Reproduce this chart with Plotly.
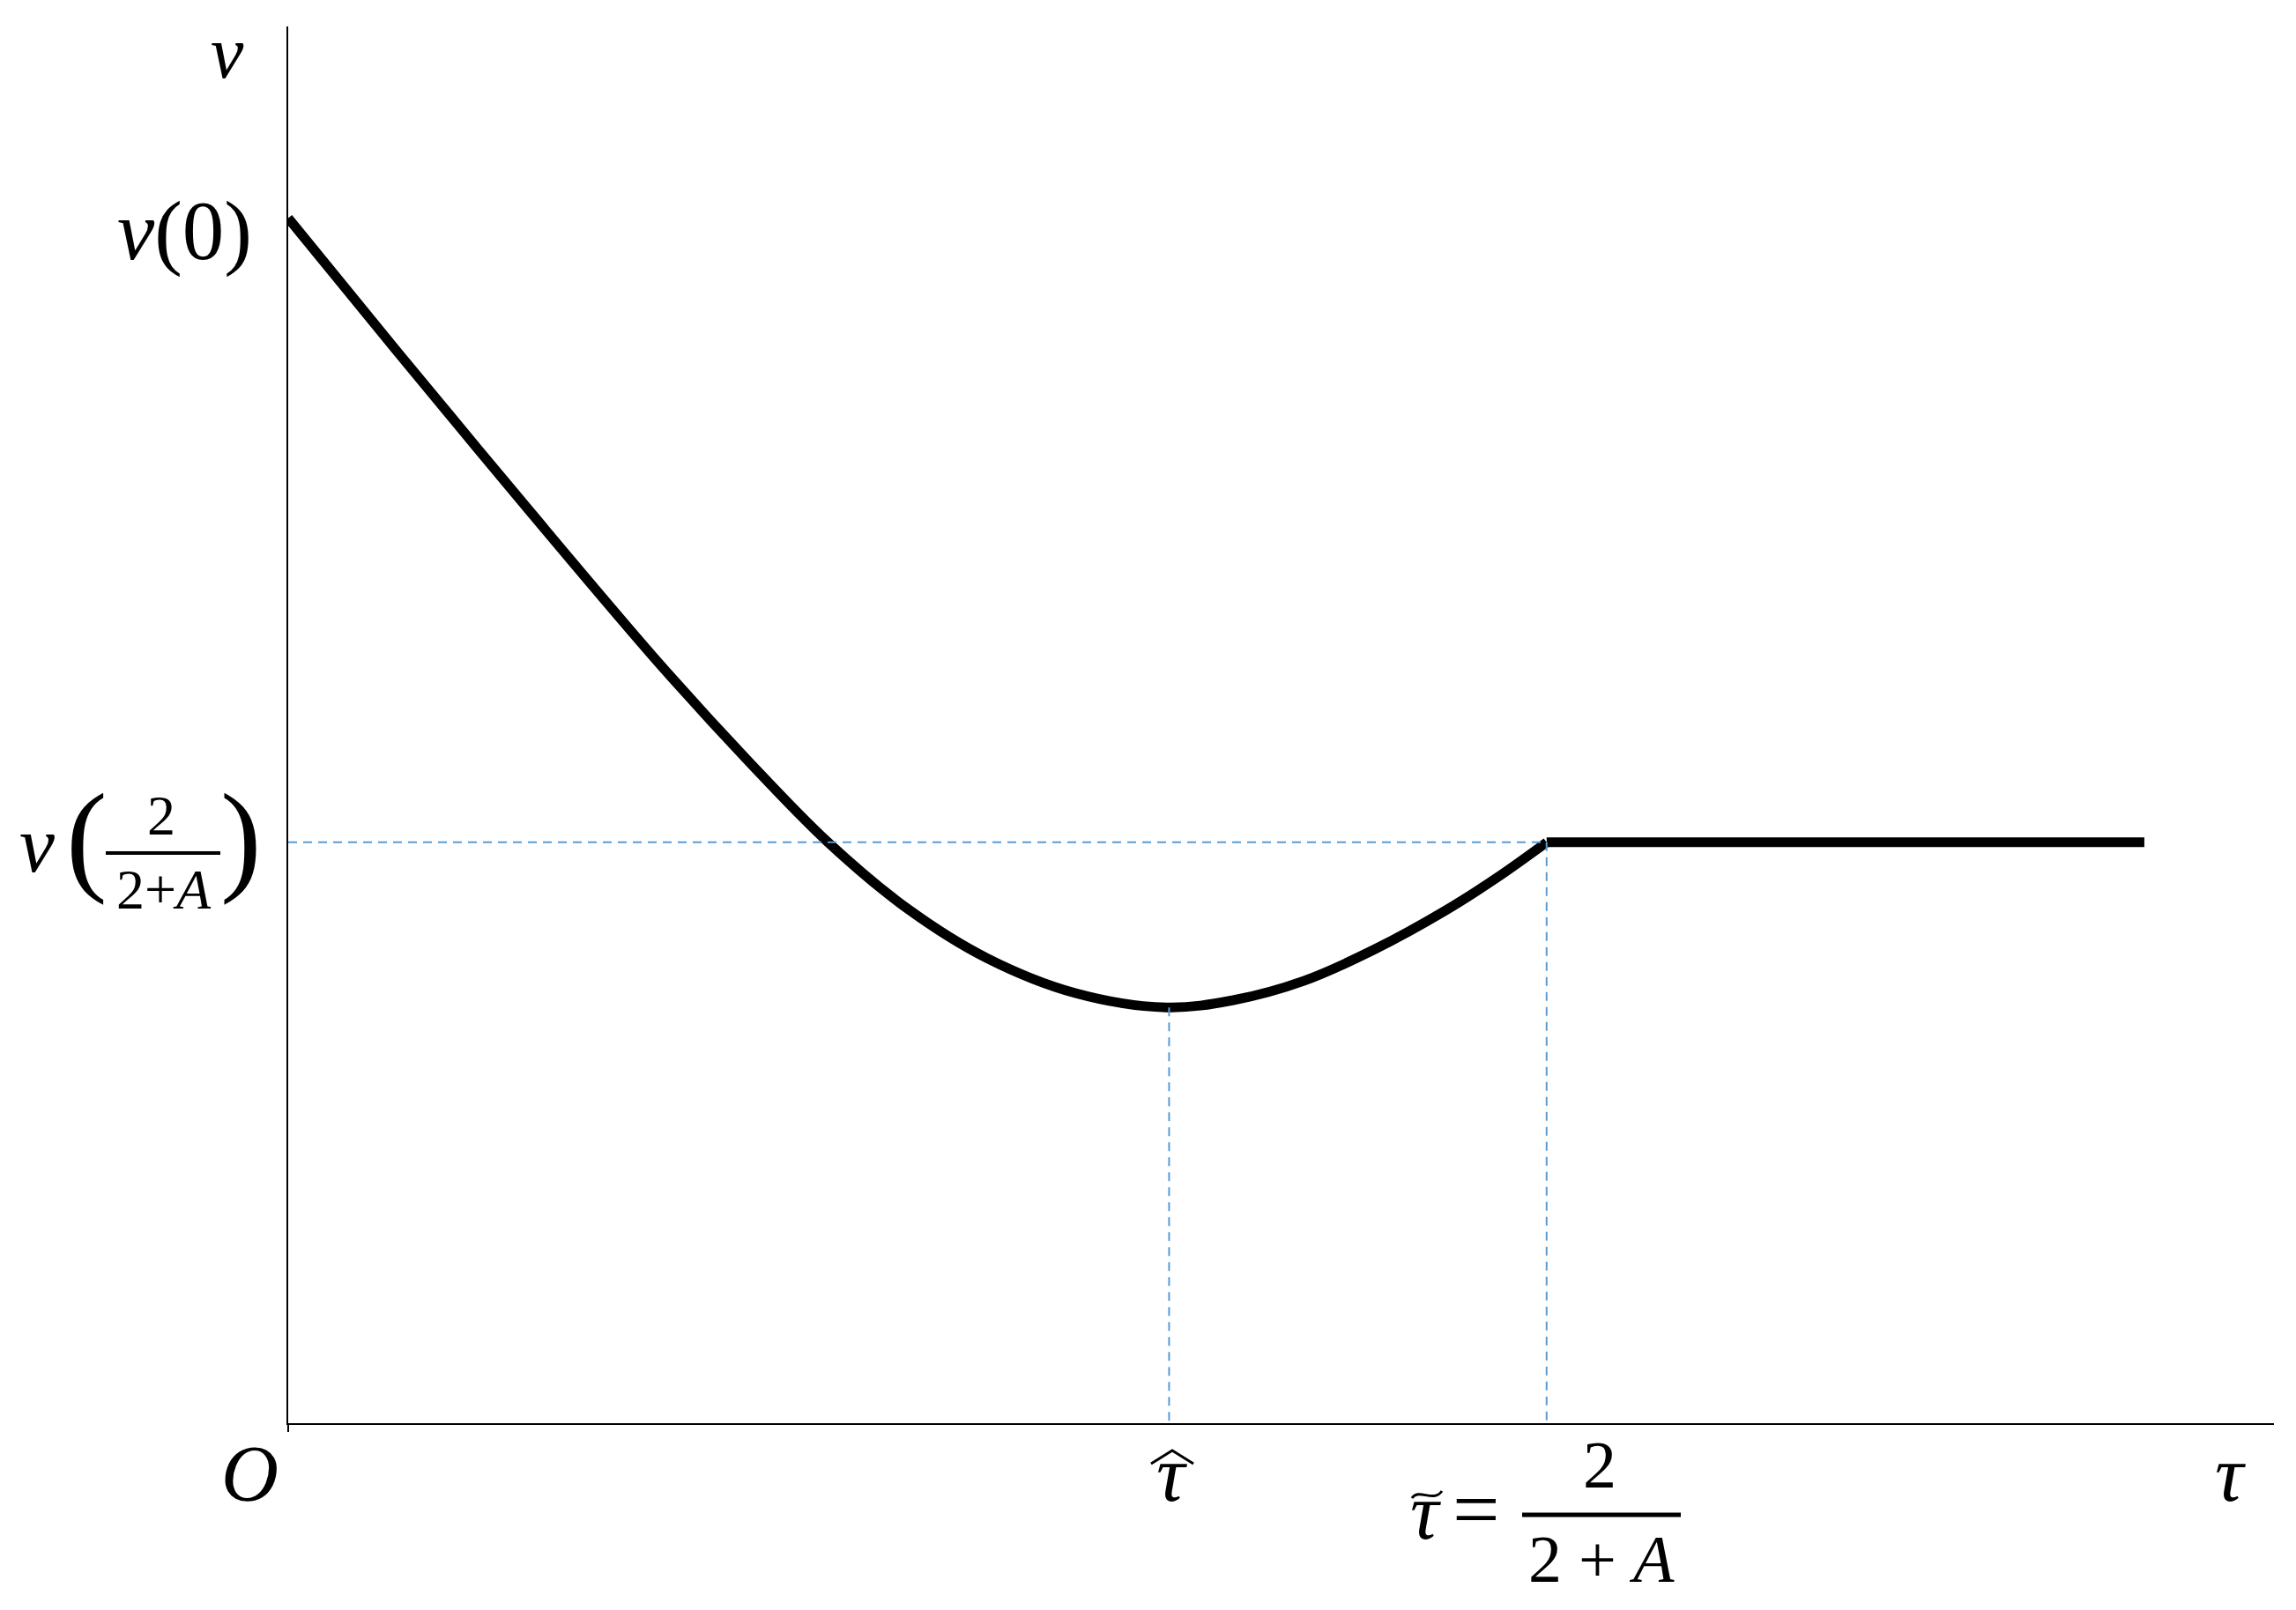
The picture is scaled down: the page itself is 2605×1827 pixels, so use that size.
"""
Value function v(tau): falls from v(0) to a minimum at tau-hat,
climbs back to v(2/(2+A)) at tau-tilde and stays flat after it.
"""

import plotly.graph_objects as go

# ---- data (tau-tilde = 1, v(0) = 1) ----
tau_curve = [0, 0.086, 0.191, 0.296, 0.366, 0.429, 0.492, 0.555, 0.625,
             0.698, 0.751, 0.807, 0.863, 0.919, 0.961, 1.0]
v_curve = [1.0, 0.890, 0.758, 0.629, 0.549, 0.482, 0.427, 0.386, 0.357,
           0.345, 0.351, 0.367, 0.393, 0.425, 0.453, 0.482]
tau_flat = [1.0, 1.475]
v_flat = [0.482, 0.482]

tau_hat = 0.700
v_hat = 0.345
tau_tilde = 1.0
v_tilde = 0.482

X_MAX = 1.578
Y_MAX = 1.159

# ---- page geometry (screen pixels; the page body adds an 8px offset) ----
OFF = 8
W, H = 2605 - OFF, 1827 - OFF
L, R, T, B = 319, 25, 22, 212
PW, PH = W - L - R, H - T - B

SERIF = "Liberation Serif"
DASH = "#5B9BD5"


def px(sx):
    return (sx - OFF - L) / PW


def py(sy):
    return (H - B - (sy - OFF)) / PH


fig = go.Figure()

fig.add_trace(go.Scatter(
    x=tau_curve, y=v_curve, mode="lines",
    line=dict(color="black", width=11, shape="spline", smoothing=1.0),
    hoverinfo="skip",
))
fig.add_trace(go.Scatter(
    x=tau_flat, y=v_flat, mode="lines",
    line=dict(color="black", width=11),
    hoverinfo="skip",
))

# guide lines
guides = [
    ([0, tau_tilde], [v_tilde, v_tilde]),
    ([tau_hat, tau_hat], [v_hat, 0]),
    ([tau_tilde, tau_tilde], [v_tilde, 0]),
]
for gx, gy in guides:
    fig.add_trace(go.Scatter(
        x=gx, y=gy, mode="lines",
        line=dict(color=DASH, width=2, dash="10px,7px"),
        hoverinfo="skip",
    ))


def label(text, x, y, size, anchor="center", **kw):
    fig.add_annotation(
        text=text, x=px(x), y=py(y), xref="paper", yref="paper",
        xanchor=anchor, yanchor="middle", showarrow=False,
        font=dict(family=SERIF, size=size, color="black"), **kw,
    )


def bar(x0, x1, y, width):
    fig.add_shape(type="line", xref="paper", yref="paper",
                  x0=px(x0), x1=px(x1), y0=py(y), y1=py(y),
                  line=dict(color="black", width=width))


def path(d, width=3):
    pts = " ".join(
        f"{c} {px(a):.5f} {py(b):.5f}" if c else f"{px(a):.5f} {py(b):.5f}"
        for c, a, b in d
    )
    fig.add_shape(type="path", xref="paper", yref="paper", path=pts,
                  line=dict(color="black", width=width))


# axis names and y labels
label("<i>v</i>", 258, 60, 84)
label("<i>v</i>(0)", 288, 262, 95, anchor="right")

label("<i>v</i>", 42, 958, 90)
label("(", 98, 950, 140)
label(")", 273, 950, 140)
label("2", 183, 925, 64)
bar(120, 250, 968, 4)
label("2+<i>A</i>", 186, 1010, 64)

# x labels
label("<i>O</i>", 283, 1673, 90)
label("<i>τ</i>", 1329, 1673, 90)
path([("M", 1306, 1661), ("L", 1330, 1646), ("L", 1354, 1661)])
label("<i>τ</i>", 2530, 1673, 90)

label("<i>τ</i>", 1617, 1715, 90)
path([("M", 1602, 1700), ("C", 1610, 1688), ("", 1626, 1706), ("", 1636, 1692)])
label("=", 1675, 1713, 95)
label("2", 1815, 1662, 76)
bar(1727, 1907, 1719, 5)
label("2 + <i>A</i>", 1817, 1769, 76)

fig.update_layout(
    width=W, height=H,
    margin=dict(l=L, r=R, t=T, b=B, pad=0),
    paper_bgcolor="white",
    plot_bgcolor="white",
    showlegend=False,
    xaxis=dict(range=[0, X_MAX], showgrid=False, zeroline=False,
               showline=True, linecolor="black", linewidth=2,
               tickvals=[0], ticks="outside", ticklen=8, tickwidth=2,
               tickcolor="black", showticklabels=False),
    yaxis=dict(range=[0, Y_MAX], showgrid=False, zeroline=False,
               showline=True, linecolor="black", linewidth=2,
               showticklabels=False, ticks=""),
)

fig.write_html("out.html")
